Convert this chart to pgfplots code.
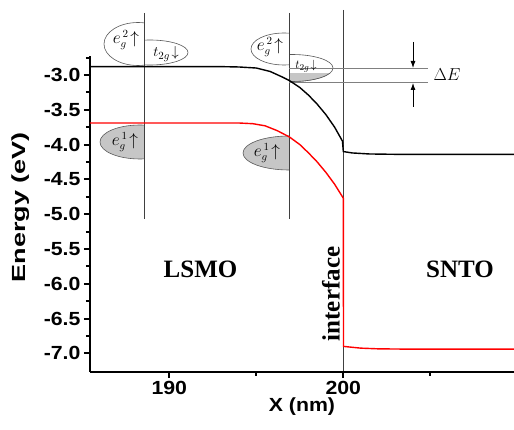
\documentclass[border=0pt]{standalone}
\usepackage{fontspec}
\setmainfont{Liberation Serif}
\setsansfont{Liberation Sans}
\newfontfamily\tickfont{Liberation Sans}[FakeStretch=1.12]
\usepackage{pgfplots}
\pgfplotsset{compat=1.18}
\usetikzlibrary{arrows.meta}
\pgfplotstableread{
x y
185.44 -2.88
193.0 -2.88
194.0 -2.885
195.0 -2.90
195.8 -2.95
196.5 -3.03
196.9 -3.08
197.5 -3.18
198.0 -3.29
198.5 -3.42
199.0 -3.57
199.5 -3.75
199.95 -3.95
200.0 -4.10
200.5 -4.12
201.5 -4.135
203.0 -4.14
209.81 -4.14
}\blackdata
\pgfplotstableread{
x y
185.44 -3.69
194.0 -3.69
194.8 -3.70
195.5 -3.73
196.2 -3.80
196.9 -3.89
197.5 -4.00
198.0 -4.12
198.5 -4.25
199.0 -4.40
199.5 -4.57
200.0 -4.77
200.01 -6.90
201.0 -6.925
202.0 -6.935
204.0 -6.94
209.81 -6.94
}\reddata
\begin{document}
\begin{tikzpicture}
% annotations in pixel coordinates (origin = top-left of picture, y down)
\begin{scope}[x=1pt,y=-1pt]
  % ellipses
  \begin{scope}\clip (90,0) rectangle (144,100);
    \draw[fill=white, draw=gray!70!black, line width=0.6pt] (138,44) ellipse [x radius=34, y radius=21.5];
  \end{scope}
  \begin{scope}\clip (144,0) rectangle (200,100);
    \draw[fill=white, draw=gray!70!black, line width=0.6pt] (150,52.5) ellipse [x radius=38, y radius=12.5];
  \end{scope}
  \begin{scope}\clip (90,123) rectangle (144,170);
    \draw[fill=gray!45, draw=gray!70!black, line width=0.6pt] (140,142) ellipse [x radius=40, y radius=17];
  \end{scope}
  \begin{scope}\clip (240,0) rectangle (289.3,100);
    \draw[fill=white, draw=gray!70!black, line width=0.6pt] (284,49) ellipse [x radius=33, y radius=16];
  \end{scope}
  \begin{scope}\clip (289.3,0) rectangle (340,100);
    \draw[fill=white, draw=gray!70!black, line width=0.6pt] (292,68) ellipse [x radius=41, y radius=13.5];
    \clip (289.3,74) rectangle (340,100);
    \fill[gray!45] (292,68) ellipse [x radius=41, y radius=13.5];
    \draw[draw=gray!70!black, line width=0.6pt] (292,68) ellipse [x radius=41, y radius=13.5];
  \end{scope}
  \begin{scope}\clip (230,136) rectangle (289.3,180);
    \draw[fill=gray!45, draw=gray!70!black, line width=0.6pt] (289,153) ellipse [x radius=46, y radius=17];
  \end{scope}
  % vertical lines
  \draw[gray!50!black, line width=0.8pt] (144,13) -- (144,219);
  \draw[gray!50!black, line width=0.8pt] (289.3,13) -- (289.3,219);
  \draw[gray!50!black, line width=0.8pt] (343.3,10) -- (343.3,371);
  % Delta E lines
  \draw[gray, line width=0.6pt] (289.3,68.3) -- (428,68.3);
  \draw[gray, line width=0.6pt] (289.3,82.7) -- (428,82.7);
  \draw[-{Latex[length=7pt,width=5pt]}, line width=0.8pt] (413,42) -- (413,68);
  \draw[-{Latex[length=7pt,width=5pt]}, line width=0.8pt] (413,107) -- (413,83);
  \node[font=\fontsize{16}{18}\selectfont] at (447,75) {$\Delta E$};
  % state labels
  \node[font=\fontsize{16}{18}\selectfont] at (126,40) {$e_g^{\,2}\!\uparrow$};
  \node[font=\fontsize{15}{17}\selectfont] at (166,54) {$t_{2g}\!\downarrow$};
  \node[font=\fontsize{16}{18}\selectfont] at (125,142) {$e_g^{\,1}\!\uparrow$};
  \node[font=\fontsize{16}{18}\selectfont] at (270,47) {$e_g^{\,2}\!\uparrow$};
  \node[font=\fontsize{13}{15}\selectfont] at (306,66) {$t_{2g}\!\downarrow$};
  \node[font=\fontsize{16}{18}\selectfont] at (267,153) {$e_g^{\,1}\!\uparrow$};
  % region labels
  \node[font=\fontsize{25}{28}\selectfont\bfseries] at (200.5,269) {LSMO};
  \node[font=\fontsize{25}{28}\selectfont\bfseries] at (460,269) {SNTO};
  \node[font=\fontsize{25}{28}\selectfont\bfseries, rotate=90] at (331,294) {interface};
\end{scope}
\begin{axis}[
  at={(90pt,-371.8pt)}, anchor=south west,
  scale only axis, width=424pt, height=316.3pt,
  xmin=185.44, xmax=209.81, ymin=-7.265, ymax=-2.72,
  axis x line*=bottom, axis y line*=left,
  axis line style={line width=2.5pt, -},
  xtick={190,200}, minor xtick={195,205},
  ytick={-7,-6.5,-6,-5.5,-5,-4.5,-4,-3.5,-3},
  minor ytick={-6.75,-6.25,-5.75,-5.25,-4.75,-4.25,-3.75,-3.25,-2.75},
  tick align=outside, major tick length=6pt, minor tick length=4pt,
  major tick style={line width=2pt, black},
  minor tick style={line width=2pt, black},
  ticklabel style={font=\tickfont\bfseries\fontsize{19}{21}\selectfont},
  /pgf/number format/assume math mode=true,
  yticklabel style={/pgf/number format/.cd, fixed, fixed zerofill, precision=1},
  xticklabel style={/pgf/number format/.cd, fixed, precision=0},
  clip=false,
]
\addplot[black, line width=1.4pt] table {\blackdata};
\addplot[red, line width=1.4pt] table {\reddata};
\node[font=\tickfont\bfseries\fontsize{19}{21}\selectfont, rotate=90] at (axis description cs:-0.163,0.52) {\scalebox{1.27}[1]{Energy (eV)}};
\node[font=\tickfont\bfseries\fontsize{19}{21}\selectfont, anchor=base] at (axis description cs:0.5,-0.124) {X (nm)};
\end{axis}
\pgfresetboundingbox
\useasboundingbox (0,0) rectangle (514pt,-430pt);
\end{tikzpicture}
\end{document}
